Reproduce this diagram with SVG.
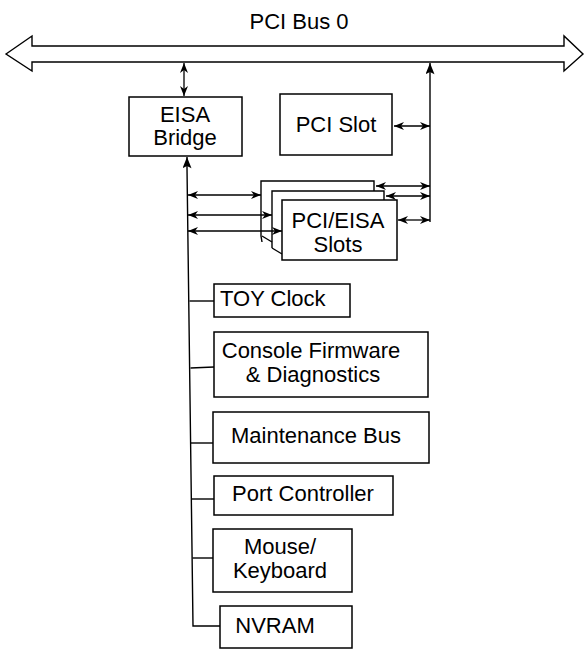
<svg xmlns="http://www.w3.org/2000/svg" width="585" height="650" viewBox="0 0 585 650">
<style>
.box{fill:#fff;stroke:#000;stroke-width:1.5}
.ln{fill:none;stroke:#000;stroke-width:1.4}
.arr{fill:none;stroke:#000;stroke-width:1.3;marker-start:url(#ah);marker-end:url(#ah)}
text{font-family:"Liberation Sans",Arial,sans-serif;font-size:22px;fill:#000}
.m{text-anchor:middle}
</style>
<defs>
<marker id="ah" viewBox="0 0 10 8" refX="10" refY="4" markerWidth="10" markerHeight="8" markerUnits="userSpaceOnUse" orient="auto-start-reverse">
<path d="M0,0 L10,4 L0,8 L3,4 z" fill="#000"/>
</marker>
<marker id="up" viewBox="0 0 10 8" refX="10" refY="4" markerWidth="13" markerHeight="9" markerUnits="userSpaceOnUse" orient="auto">
<path d="M0,0 L10,4 L0,8 L2,4 z" fill="#000"/>
</marker>
</defs>
<rect width="585" height="650" fill="#fff"/>
<g id="bus">
<path d="M6,54 L32,36 L32,46 L564,46 L564,36 L583,54 L564,71 L564,62 L32,62 L32,71 Z" fill="#fff" stroke="#000" stroke-width="1.4" stroke-linejoin="miter"/>
<text class="m" x="299" y="29">PCI Bus 0</text>
</g>
<g id="connectors">
<line class="arr" x1="184" y1="63" x2="184" y2="96"/>
<polyline class="ln" points="187,168 193,626 220,626"/>
<line class="ln" x1="187" y1="168" x2="187" y2="157" style="marker-end:url(#up)"/>
<line class="ln" x1="430" y1="222" x2="430" y2="63" style="marker-end:url(#up)"/>
<line class="arr" x1="394" y1="126" x2="430" y2="126"/>
<line class="arr" x1="376" y1="186" x2="430" y2="186"/>
<line class="arr" x1="386" y1="196" x2="430" y2="196"/>
<line class="arr" x1="398" y1="220" x2="430" y2="220"/>
<line class="arr" x1="188" y1="195" x2="261" y2="195"/>
<line class="arr" x1="188" y1="215" x2="272" y2="215"/>
<line class="arr" x1="188" y1="231" x2="282" y2="231"/>
<line class="ln" x1="189.5" y1="301" x2="214" y2="301"/>
<line class="ln" x1="190.5" y1="368" x2="214" y2="367"/>
<line class="ln" x1="191" y1="443" x2="213" y2="443"/>
<line class="ln" x1="192" y1="499" x2="214" y2="499"/>
<line class="ln" x1="192.5" y1="558" x2="213" y2="558"/>
</g>
<g id="eisa-bridge">
<rect class="box" x="129" y="97" width="113" height="59"/>
<text class="m" x="185" y="122">EISA</text>
<text class="m" x="185" y="145">Bridge</text>
</g>
<g id="pci-slot">
<rect class="box" x="280" y="94" width="112" height="61"/>
<text class="m" x="336" y="132">PCI Slot</text>
</g>
<g id="pci-eisa-slots">
<polyline class="ln" points="262,242 261,236 261,181 374,181 374,191"/>
<line class="ln" x1="262" y1="236" x2="272" y2="242"/>
<polyline class="ln" points="272,248 272,191 384,191 384,200"/>
<line class="ln" x1="272" y1="248" x2="282" y2="254"/>
<rect class="box" x="282" y="200" width="115" height="60"/>
<text class="m" x="338" y="228">PCI/EISA</text>
<text class="m" x="338" y="252">Slots</text>
</g>
<g id="toy-clock">
<rect class="box" x="214" y="284" width="136" height="33"/>
<text x="220" y="306">TOY Clock</text>
</g>
<g id="console-firmware">
<rect class="box" x="214" y="332" width="214" height="65"/>
<text class="m" x="311" y="358">Console Firmware</text>
<text class="m" x="313" y="382">&amp; Diagnostics</text>
</g>
<g id="maintenance-bus">
<rect class="box" x="213" y="412" width="216" height="51"/>
<text class="m" x="316" y="443">Maintenance Bus</text>
</g>
<g id="port-controller">
<rect class="box" x="214" y="476" width="179" height="39"/>
<text class="m" x="303" y="501">Port Controller</text>
</g>
<g id="mouse-keyboard">
<rect class="box" x="213" y="529" width="139" height="63"/>
<text class="m" x="280" y="554">Mouse/</text>
<text class="m" x="280" y="578">Keyboard</text>
</g>
<g id="nvram">
<rect class="box" x="220" y="606" width="132" height="42"/>
<text class="m" x="275" y="633">NVRAM</text>
</g>
</svg>
